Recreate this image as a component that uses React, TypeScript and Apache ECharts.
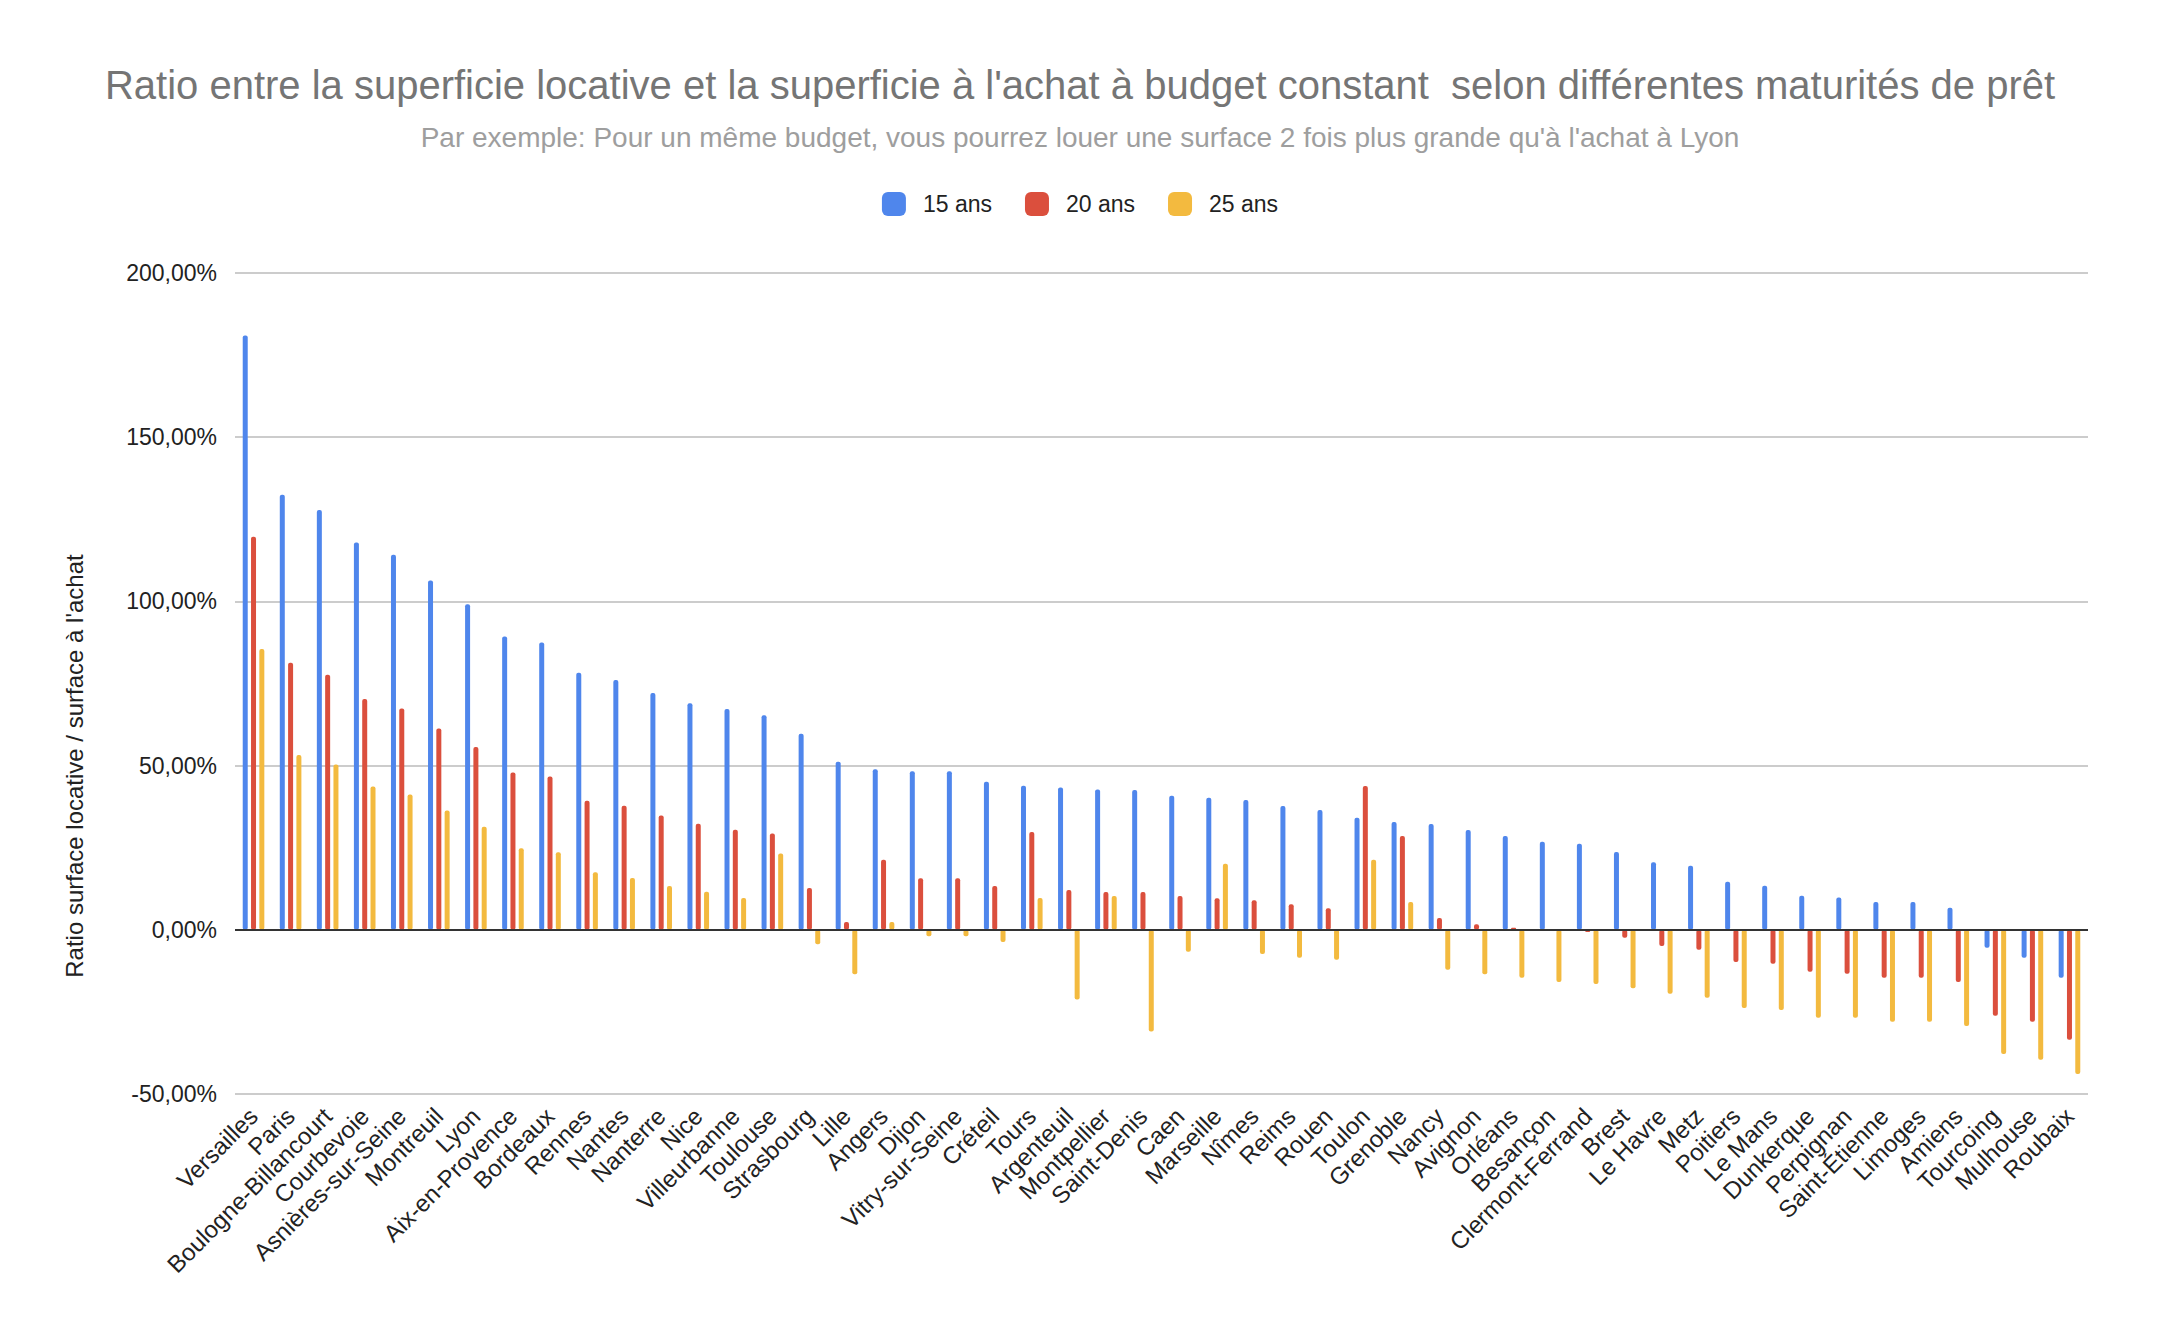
import React, { useEffect, useRef } from "react";
import * as echarts from "echarts";

const TITLE =
  "Ratio entre la superficie locative et la superficie à l'achat à budget constant  selon différentes maturités de prêt";
const SUBTITLE =
  "Par exemple: Pour un même budget, vous pourrez louer une surface 2 fois plus grande qu'à l'achat à Lyon";
const Y_NAME = "Ratio surface locative / surface à l'achat";

const cities = [
  "Versailles", "Paris", "Boulogne-Billancourt", "Courbevoie", "Asnières-sur-Seine",
  "Montreuil", "Lyon", "Aix-en-Provence", "Bordeaux", "Rennes",
  "Nantes", "Nanterre", "Nice", "Villeurbanne", "Toulouse",
  "Strasbourg", "Lille", "Angers", "Dijon", "Vitry-sur-Seine",
  "Créteil", "Tours", "Argenteuil", "Montpellier", "Saint-Denis",
  "Caen", "Marseille", "Nîmes", "Reims", "Rouen",
  "Toulon", "Grenoble", "Nancy", "Avignon", "Orléans",
  "Besançon", "Clermont-Ferrand", "Brest", "Le Havre", "Metz",
  "Poitiers", "Le Mans", "Dunkerque", "Perpignan", "Saint-Étienne",
  "Limoges", "Amiens", "Tourcoing", "Mulhouse", "Roubaix",
];

const seriesNames = ["15 ans", "20 ans", "25 ans"];

const values15 = [
  181.0, 132.5, 127.8, 117.9, 114.2, 106.4, 99.1, 89.3, 87.5, 78.3,
  76.1, 72.1, 69.0, 67.2, 65.3, 59.7, 51.2, 48.9, 48.3, 48.3,
  45.1, 43.9, 43.3, 42.7, 42.6, 40.8, 40.2, 39.5, 37.7, 36.5,
  34.1, 32.8, 32.2, 30.4, 28.6, 26.8, 26.2, 23.7, 20.6, 19.5,
  14.6, 13.4, 10.4, 9.8, 8.5, 8.5, 6.7, -5.5, -8.5, -14.6,
];

const values20 = [
  119.7, 81.3, 77.7, 70.3, 67.4, 61.3, 55.7, 47.9, 46.7, 39.3,
  37.8, 34.8, 32.3, 30.5, 29.3, 12.7, 2.4, 21.3, 15.7, 15.7,
  13.3, 29.8, 12.1, 11.5, 11.5, 10.3, 9.6, 9.0, 7.8, 6.6,
  43.8, 28.6, 3.6, 1.7, 0.6, 0.1, -0.7, -2.4, -4.9, -6.1,
  -9.8, -10.3, -12.8, -13.4, -14.6, -14.6, -15.9, -26.2, -28.0, -33.5,
];

const values25 = [
  85.5, 53.2, 50.3, 43.6, 41.2, 36.3, 31.4, 24.8, 23.6, 17.5,
  15.8, 13.3, 11.6, 9.7, 23.2, -4.4, -13.5, 2.4, -2.0, -2.0,
  -3.7, 9.7, -21.2, 10.3, -31.0, -6.7, 20.1, -7.4, -8.5, -9.1,
  21.3, 8.5, -12.2, -13.5, -14.6, -15.9, -16.5, -17.8, -19.5, -20.7,
  -23.8, -24.4, -26.8, -26.8, -28.0, -28.0, -29.3, -37.8, -39.6, -43.9,
];

const yTicks = { min: -50, max: 200, interval: 50 };

const colors = ["#4f86ec", "#db4f3d", "#f3ba3f"];
const FONT = "'Liberation Sans', Arial, Helvetica, sans-serif";

export default function App() {
  const ref = useRef<HTMLDivElement>(null);

  useEffect(() => {
    if (!ref.current) return;
    const chart = echarts.init(ref.current, undefined, { renderer: "svg" });
    const seriesData = [values15, values20, values25];

    const option: any = {
      animation: false,
      backgroundColor: "#ffffff",
      color: colors,
      textStyle: { fontFamily: FONT },
      title: [
        {
          text: TITLE,
          left: "center",
          top: 60,
          textStyle: { fontSize: 40, color: "#757575", fontWeight: "normal", fontFamily: FONT },
        },
        {
          text: SUBTITLE,
          left: "center",
          top: 118,
          textStyle: { fontSize: 28, color: "#9e9e9e", fontWeight: "normal", fontFamily: FONT },
        },
      ],
      legend: {
        top: 187,
        left: "center",
        icon: "roundRect",
        itemWidth: 24,
        itemHeight: 24,
        itemGap: 33,
        data: seriesNames,
        textStyle: { fontSize: 23, color: "#222222", fontFamily: FONT, padding: [0, 0, 0, 12] },
      },
      grid: { left: 235, right: 72, top: 273, bottom: 240, containLabel: false },
      xAxis: {
        type: "category",
        data: cities,
        axisLine: { show: false, onZero: false },
        axisTick: { show: false },
        axisLabel: {
          interval: 0,
          rotate: 45,
          fontSize: 24,
          color: "#222222",
          fontFamily: FONT,
          margin: 18,
        },
      },
      yAxis: {
        type: "value",
        min: yTicks.min,
        max: yTicks.max,
        interval: yTicks.interval,
        axisLine: { show: false },
        axisTick: { show: false },
        splitLine: { lineStyle: { color: "#cccccc", width: 2 } },
        axisLabel: {
          fontSize: 23,
          color: "#222222",
          fontFamily: FONT,
          margin: 18,
          formatter: (v: number) => v.toFixed(2).replace(".", ",") + "%",
        },
      },
      graphic: [
        {
          type: "text",
          x: 74,
          y: 766,
          rotation: Math.PI / 2,
          style: {
            text: Y_NAME,
            fontSize: 24,
            fill: "#222222",
            fontFamily: FONT,
            textAlign: "center",
            textVerticalAlign: "middle",
          },
        },
      ],
      series: seriesNames.map((name, i) => ({
        name,
        type: "bar",
        data: seriesData[i],
        barWidth: 5,
        barGap: "66%",
        itemStyle: { color: colors[i], borderRadius: 2 },
        markLine:
          i === 0
            ? {
                silent: true,
                symbol: ["none", "none"],
                label: { show: false },
                lineStyle: { color: "#333333", width: 2, type: "solid" },
                data: [{ yAxis: 0 }],
              }
            : undefined,
      })),
    };

    chart.setOption(option);
    return () => chart.dispose();
  }, []);

  return (
    <div
      ref={ref}
      style={{ position: "fixed", left: 0, top: 0, width: 2160, height: 1334, background: "#fff" }}
    />
  );
}
